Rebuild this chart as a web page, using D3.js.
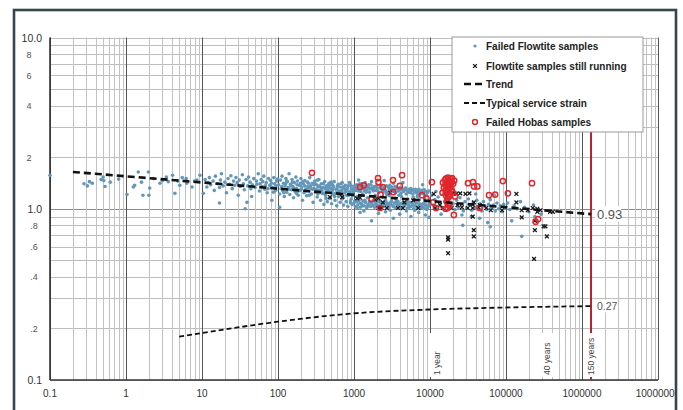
<!DOCTYPE html>
<html>
<head>
<meta charset="utf-8">
<script src="https://cdn.jsdelivr.net/npm/d3@7"></script>
<style>
  body { margin: 0; background: #fff; }
  svg { display: block; font-family: "Liberation Sans", Arial, sans-serif; }
</style>
</head>
<body>
<div id="wrapper"></div>
<script>
// hours to failure vs. strain (%)
const failedFlowtite = [
  [0.1,1.57],[0.28,1.40],[0.31,1.36],[0.33,1.44],[0.36,1.41],[0.47,1.48],[0.5,1.53],[0.51,1.46],[0.53,1.35],[0.62,1.43],[0.8,1.49],
  [1.03,1.21],[1.25,1.34],[1.3,1.37],[1.45,1.64],[1.6,1.43],[1.67,1.2],[1.97,1.64],[2.0,1.2],[2.05,1.32],[2.3,1.5],[2.8,1.41],[3.0,1.46],
  [3.4,1.53],[3.6,1.44],[4.1,1.57],[4.4,1.23],[4.8,1.45],[5.1,1.37],[5.5,1.52],[6.2,1.5],[6.3,1.41],[7.4,1.34],[8.0,1.45],[8.6,1.47],[9.4,1.57],
  [10.4,1.23],[11,1.48],[11.6,1.34],[12,1.42],[12.5,1.52],[13,1.38],[14,1.45],[14.5,1.28],[15,1.55],[16,1.40],[17,1.33],[17.5,1.47],[18,1.6],
  [19,1.36],[20,1.43],[21,1.24],[22,1.5],[23,1.39],[24,1.56],[25,1.31],[26,1.45],[27,1.37],[28,1.52],[29,1.42],[30,1.2],[31,1.47],[32,1.35],
  [34,1.58],[35,1.40],[36,1.29],[38,1.48],[40,1.36],[41,1.53],[43,1.43],[45,1.18],[46,1.38],[48,1.5],[50,1.33],[52,1.45],[55,1.6],[57,1.27],
  [58,1.4],[60,1.48],[62,1.35],[65,1.55],[67,1.3],[70,1.42],[72,1.24],[75,1.5],[78,1.37],[80,1.46],[83,1.12],[85,1.33],[88,1.52],[90,1.4],
  [93,1.28],[96,1.45],[37,1.0],[105,1.02],[17,1.08],[39,1.09],
  [44,1.31],[53,1.39],[63,1.44],[68,1.36],[74,1.31],[82,1.41],[87,1.25],[94,1.36],[98,1.49],
  [102,1.38],[105,1.22],[108,1.47],[110,1.31],[113,1.55],[116,1.27],[118,1.41],[121,1.18],[124,1.36],[127,1.5],[130,1.25],[133,1.44],[136,1.33],
  [140,1.6],[143,1.21],[146,1.39],[150,1.29],[153,1.48],[157,1.35],[160,1.16],[164,1.42],[168,1.26],[172,1.53],[176,1.31],[180,1.45],[185,1.2],
  [190,1.37],[195,1.28],[200,1.5],[205,1.34],[210,1.12],[215,1.4],[220,1.24],[226,1.46],[232,1.3],[238,1.19],[244,1.43],[250,1.33],[256,1.27],
  [262,1.52],[268,1.36],[275,1.22],[282,1.41],[290,1.09],[297,1.31],[305,1.45],[312,1.25],[320,1.38],[328,1.17],[336,1.34],[345,1.48],[354,1.28],
  [363,1.12],[372,1.4],[382,1.23],[392,1.33],[402,1.06],[412,1.44],[423,1.2],[434,1.36],[445,1.1],[457,1.29],[469,1.41],[481,1.15],[494,1.32],
  [507,1.07],[520,1.38],[534,1.22],[548,1.44],[562,1.12],[577,1.3],[592,1.04],[607,1.36],[623,1.18],[640,1.27],[657,1.09],[674,1.4],[692,1.14],
  [710,1.33],[729,1.05],[748,1.24],[768,1.37],[788,1.1],[809,1.29],[830,1.03],[852,1.2],[875,1.42],[898,1.11],[922,1.31],[946,1.06],[971,1.25],[996,1.35],
  [155,1.43],[175,1.23],[198,1.41],[225,1.36],[258,1.2],[285,1.3],[310,1.4],[340,1.26],[370,1.33],[400,1.23],[430,1.15],[460,1.37],[490,1.25],
  [525,1.3],[555,1.18],[590,1.24],[620,1.39],[650,1.2],[690,1.28],[720,1.16],[760,1.3],[800,1.2],[840,1.36],[880,1.26],[920,1.14],[960,1.3],
  [130,1.45],[245,1.35],[330,1.47],[500,1.43],[700,1.42],[900,1.08],
  [112,1.35],[119,1.24],[126,1.4],[138,1.3],[148,1.36],[162,1.32],[178,1.38],[188,1.27],[202,1.3],[212,1.44],[235,1.27],[252,1.41],[270,1.32],
  [295,1.38],[318,1.3],[335,1.22],[350,1.36],[378,1.28],[395,1.4],[420,1.31],[440,1.26],[465,1.33],[485,1.38],[515,1.27],[540,1.35],[570,1.23],
  [600,1.31],[630,1.25],[660,1.34],[700,1.22],[740,1.35],[780,1.26],[820,1.32],[860,1.23],[910,1.37],[950,1.19],[985,1.28],
  [1010,1.33],[1050,1.28],[1090,1.38],[1130,1.3],[1180,1.35],[1220,1.26],[1270,1.4],[1320,1.31],[1370,1.27],[1420,1.36],[1480,1.29],[1540,1.34],
  [1600,1.25],[1660,1.38],[1730,1.3],[1800,1.27],[1870,1.35],[1950,1.28],[2030,1.32],[2110,1.24],[2200,1.37],[2290,1.3],[2380,1.26],[2480,1.33],
  [2580,1.28],[2680,1.36],[2790,1.25],[2900,1.31],[3020,1.28],[3140,1.34],[3270,1.26],[3400,1.3],[3540,1.24],[3680,1.33],[3830,1.27],[3980,1.29],
  [4150,1.23],[4320,1.31],[4500,1.26],[4680,1.29],[4870,1.22],[5070,1.27],[5280,1.3],[5500,1.24],[5720,1.28],[5960,1.22],[6200,1.26],[6450,1.3],
  [6720,1.23],[7000,1.27],[7280,1.21],[7580,1.25],[7890,1.28],[8210,1.22],[8550,1.26],[8900,1.2],[9260,1.24],[9640,1.27],
  [1030,1.36],[1070,1.31],[1140,1.27],[1190,1.4],[1240,1.33],[1290,1.36],[1390,1.32],[1450,1.25],[1560,1.38],[1620,1.31],[1760,1.34],[1830,1.3],
  [1980,1.36],[2060,1.27],[2230,1.33],[2330,1.35],[2530,1.3],[2630,1.24],[2840,1.34],[2960,1.37],[3200,1.29],[3460,1.35],[3720,1.3],[4050,1.33],
  [4400,1.28],[4780,1.32],[5180,1.25],[5620,1.31],[6100,1.29],[6600,1.25],[7150,1.3],[7750,1.23],[8400,1.29],[9100,1.26],
  [1000,1.08],[1040,1.03],[1080,1.1],[1120,1.05],[1160,1.12],[1210,1.02],[1260,1.07],[1310,1.11],[1360,1.04],[1410,1.09],[1470,1.01],[1530,1.06],
  [1590,1.1],[1650,1.03],[1720,1.08],[1790,1.12],[1860,1.02],[1930,1.06],[2010,1.09],[2090,1.04],[2170,1.11],[2260,1.01],[2350,1.07],[2450,1.03],
  [2550,1.1],[2650,1.05],[2760,1.08],[2870,1.02],[2990,1.06],[3110,1.11],[3240,1.04],[3370,1.08],[3510,1.01],[3650,1.06],[3800,1.1],[3950,1.03],
  [4110,1.07],[4280,1.02],[4450,1.09],[4630,1.04],[4820,1.07],[5010,1.01],[5210,1.05],[5420,1.09],[5640,1.03],[5870,1.06],[6110,1.0],[6360,1.04],
  [6610,1.08],[6880,1.02],[7160,1.05],[7450,1.0],[7750,1.04],[8060,1.07],[8390,1.01],[8730,1.05],[9080,0.99],[9450,1.03],[9830,1.06],
  [1020,1.11],[1100,1.01],[1190,1.08],[1280,1.04],[1390,1.12],[1500,1.03],[1620,1.08],[1750,1.05],[1900,1.1],[2050,1.02],[2220,1.08],[2400,1.05],
  [2600,1.12],[2820,1.04],[3050,1.09],[3300,1.03],[3580,1.1],[3880,1.05],[4200,1.0],[4550,1.06],[4930,1.1],[5340,1.02],[5780,1.08],[6260,1.05],
  [6780,1.01],[7340,1.07],[7950,1.02],[8600,1.09],[9300,1.01],[9900,1.09],
  [1100,1.18],[1500,1.16],[1900,1.2],[2400,1.17],[2900,1.19],[3500,1.15],[4200,1.18],[5100,1.14],[6000,1.17],[7200,1.13],[8500,1.15],
  [1300,1.22],[2700,1.21],[3900,1.2],[6800,1.18],
  [1150,1.47],[1700,1.44],[2500,1.46],[4400,1.42],[8000,1.38],[1400,1.42],[3300,1.41],
  [1350,0.97],[1700,0.85],[2100,0.94],[2600,0.96],[3300,0.88],[4000,0.93],[4900,0.97],[5600,0.9],[7100,0.95],[8700,0.92],[9700,0.89],
  [1200,0.95],[3000,0.98],[6300,0.98],
  [10500,1.2],[11000,1.05],[11600,1.13],[12200,1.0],[12800,1.17],[13500,1.08],[14200,1.02],[15000,1.22],[15700,1.1],[16500,0.98],[17400,1.15],
  [18300,1.04],[19200,1.19],[20200,1.07],[21300,0.99],[22400,1.12],[23600,1.02],[24800,1.16],[26100,1.06],[27500,0.97],[28900,1.1],[30400,1.01],
  [32000,1.14],[33700,1.05],[35400,0.98],[37300,1.09],[39200,1.02],[41300,1.12],[43400,1.0],[45700,1.07],[48100,0.97],[50600,1.1],[53200,1.03],
  [56000,0.99],[58900,1.06],[62000,1.13],[65200,1.01],[68600,1.05],[72200,0.97],[76000,1.08],[80000,1.0],[84100,1.04],[88500,0.96],[93100,1.06],
  [98000,1.01],[26300,0.92],[27000,0.8],[62000,0.785],[57500,0.83],[35000,0.9],[45000,0.88],[14000,0.93],
  [12000,1.26],[22000,1.24],[40000,1.22],[70000,1.2],
  [105000,1.08],[112000,0.99],[119000,0.85],[128000,1.04],[140000,1.0],[161000,0.69],[175000,1.02],[200000,0.96],[230000,1.05],
  [260000,0.98],[290000,0.93],[240000,0.9],[155000,1.1]
];

const stillRunning = [
  [483,1.17],[700,1.17],[1100,1.15],[1200,1.16],[1900,1.13],[2100,1.15],[2400,1.09],[2300,1.01],[2100,1.01],[2700,1.01],[3000,1.24],
  [4600,1.09],[4400,1.01],[3800,1.01],[6000,1.12],[7000,1.01],
  [11200,1.22],[16700,1.22],[22300,1.22],[29300,1.22],[11600,1.01],[13500,1.05],[14800,1.01],[19200,1.01],[23000,1.05],[26300,1.02],
  [31400,1.01],[36500,1.01],[37700,1.09],[43500,1.02],[63000,0.98],[88600,0.98],[137000,1.22],[161000,0.98],[193000,0.98],[225000,1.01],
  [258000,0.96],[284000,0.98],[240000,0.85],[330000,0.79],[312000,0.79],[240000,0.75],[380000,0.96],[414000,0.96],[345000,0.69],
  [37700,0.75],[37700,0.69],[17300,0.68],[17300,0.66],[17300,0.55],[234000,0.51],[36500,0.9],[161000,0.89],
  [20000,1.23],[25000,1.23],[33000,1.23],[45000,1.05],[55000,1.01],[137000,1.09],[258000,1.0]
];

const failedHobas = [
  [280,1.62],[1200,1.34],[1350,1.37],[1700,1.14],[2070,1.51],[2100,1.43],[2200,1.01],[2240,1.21],[2400,1.34],[3260,1.47],[3260,1.25],
  [4000,1.36],[4290,1.57],[7850,1.2],[9000,1.15],[10600,1.43],[11000,1.09],[12000,1.01],
  [15700,1.47],[16200,1.5],[16700,1.44],[17200,1.52],[17700,1.46],[18200,1.41],[18700,1.49],[19300,1.43],[15900,1.38],[16500,1.35],
  [17000,1.4],[17500,1.33],[18000,1.37],[18600,1.34],[19200,1.3],[16000,1.28],[16800,1.25],[17400,1.29],[18100,1.22],[16300,1.19],
  [17100,1.15],[17800,1.18],[16600,1.1],[17300,1.06],[17000,1.01],[16000,1.0],[18000,1.04],[20600,0.92],[21300,1.18],[19800,1.25],[20200,1.4],
  [14800,1.42],[15200,1.33],[14600,1.24],[20800,1.46],[19500,1.51],
  [31600,1.41],[36800,1.43],[38000,1.35],[42000,1.35],[45000,1.01],[59700,1.2],[72000,1.21],[91000,1.45],[106000,1.23],
  [220000,1.41],[265000,0.87],[245000,0.84]
];

const trend = [[0.2,1.64],[1314000,0.93]];
const serviceStrain = [[5,0.179],[10,0.188],[100,0.219],[1000,0.245],[10000,0.258],[100000,0.265],[1314000,0.27]];

const xTicks = [0.1,1,10,100,1000,10000,100000,1000000,10000000];
const xTickLabels = ["0.1","1","10","100","1000","10000","100000","1000000","10000000"];
const yMajor = [0.1,1,10];
const yMajorLabels = ["0.1","1.0","10.0"];
const yMinor = [0.2,0.4,0.6,0.8,2,4,6,8];
const yMinorLabels = [".2",".4",".6",".8","2","4","6","8"];

const timeMarks = ["1 year","40 years","150 years"];
const timeHours = [8760,350400,1314000];
const endLabels = ["0.93","0.27"];

const legendLabels = ["Failed Flowtite samples","Flowtite samples still running","Trend","Typical service strain","Failed Hobas samples"];

function draw() {
  const width = 683, height = 410;
  const svg = d3.select("#wrapper").append("svg")
    .attr("width", width)
    .attr("height", height);

  svg.append("defs").append("clipPath").attr("id", "frameClip")
    .append("rect").attr("x", 15).attr("y", 11).attr("width", 660).attr("height", 400);

  const root = svg.append("g").attr("clip-path", "url(#frameClip)");

  const x = d3.scaleLog().domain([0.1, 1e7]).range([50, 658]);
  const y = d3.scaleLog().domain([0.1, 10]).range([380, 37.5]);

  // grid
  const grid = root.append("g");
  const xAll = [];
  for (let e = -1; e < 7; e++) for (let m = 1; m < 10; m++) xAll.push(m * Math.pow(10, e));
  xAll.push(1e7);
  const yAll = [];
  for (let e = -1; e < 1; e++) for (let m = 1; m < 10; m++) yAll.push(m * Math.pow(10, e));
  yAll.push(10);

  grid.selectAll(".hgrid").data(yAll).join("line")
    .attr("x1", 50).attr("x2", 658)
    .attr("y1", d => Math.round(y(d)) + 0.5).attr("y2", d => Math.round(y(d)) + 0.5)
    .attr("stroke", d => Math.abs(d - 1) < 1e-9 ? "#8c8c8c" : "#bdbdbd")
    .attr("stroke-width", 1);

  grid.selectAll(".vgrid").data(xAll).join("line")
    .attr("y1", 37.5).attr("y2", 380)
    .attr("x1", d => Math.round(x(d)) + 0.5).attr("x2", d => Math.round(x(d)) + 0.5)
    .attr("stroke", d => xTicks.some(t => Math.abs(t - d) / t < 1e-9) ? "#555" : "#c2c2c2")
    .attr("stroke-width", 1);

  // axes lines
  grid.append("line").attr("x1", 50).attr("x2", 50).attr("y1", 37.5).attr("y2", 380)
    .attr("stroke", "#333").attr("stroke-width", 1.6);
  grid.append("line").attr("x1", 50).attr("x2", 658).attr("y1", 380).attr("y2", 380)
    .attr("stroke", "#333").attr("stroke-width", 1.6);

  // 150 years limit line
  root.append("line")
    .attr("x1", x(timeHours[2])).attr("x2", x(timeHours[2]))
    .attr("y1", 37.5).attr("y2", 380)
    .attr("stroke", "#b3262c").attr("stroke-width", 2);

  // tick labels
  root.selectAll(".xlab").data(xTicks).join("text")
    .attr("x", d => x(d)).attr("y", 397)
    .attr("text-anchor", "middle")
    .attr("font-size", 10).attr("fill", "#333")
    .text((d, i) => xTickLabels[i]);

  root.selectAll(".ymaj").data(yMajor).join("text")
    .attr("x", 42).attr("y", d => y(d) + 4)
    .attr("text-anchor", "end")
    .attr("font-size", 10.5).attr("fill", "#333")
    .text((d, i) => yMajorLabels[i]);

  root.selectAll(".ymin").data(yMinor).join("text")
    .attr("x", (d, i) => d < 1 ? 34 : 29).attr("y", d => y(d) + 3.5)
    .attr("text-anchor", "middle")
    .attr("font-size", 9).attr("fill", "#555")
    .text((d, i) => yMinorLabels[i]);

  // time marker labels
  const markDx = [11, 0, 0];
  const marks = root.selectAll(".mark").data(timeMarks).join("g")
    .attr("transform", (d, i) => "translate(" + (x(timeHours[i]) + markDx[i]) + ",0)");
  marks.append("rect")
    .attr("x", -8).attr("y", 333).attr("width", 16).attr("height", 44)
    .attr("fill", "#fff");
  marks.append("text")
    .attr("transform", "translate(3,375) rotate(-90)")
    .attr("font-size", 8.5).attr("fill", "#444")
    .text(d => d);

  // points
  const pts = root.append("g");
  pts.selectAll(".ff").data(failedFlowtite).join("circle")
    .attr("cx", d => x(d[0])).attr("cy", d => y(d[1]))
    .attr("r", 1.8)
    .attr("fill", "#6397ba");

  const cross = (s) => "M" + (-s) + "," + (-s) + "L" + s + "," + s + "M" + (-s) + "," + s + "L" + s + "," + (-s);
  pts.selectAll(".sr").data(stillRunning).join("path")
    .attr("transform", d => "translate(" + x(d[0]) + "," + y(d[1]) + ")")
    .attr("d", cross(1.9))
    .attr("stroke", "#1a1a1a").attr("stroke-width", 1.3)
    .attr("fill", "none");

  pts.selectAll(".fh").data(failedHobas).join("circle")
    .attr("cx", d => x(d[0])).attr("cy", d => y(d[1]))
    .attr("r", 2.6)
    .attr("fill", "none")
    .attr("stroke", "#e2262b").attr("stroke-width", 1.5);

  // lines
  const line = d3.line().x(d => x(d[0])).y(d => y(d[1]));
  root.append("path").attr("d", line(trend))
    .attr("fill", "none").attr("stroke", "#111")
    .attr("stroke-width", 2.6).attr("stroke-dasharray", "7,4");

  root.append("path").attr("d", line.curve(d3.curveMonotoneX)(serviceStrain))
    .attr("fill", "none").attr("stroke", "#111")
    .attr("stroke-width", 1.8).attr("stroke-dasharray", "5,3");

  // end labels
  const ends = [trend[trend.length - 1], serviceStrain[serviceStrain.length - 1]];
  const endSize = [13, 10.5];
  ends.forEach((d, i) => {
    root.append("rect")
      .attr("x", x(d[0]) + 4).attr("y", y(d[1]) - endSize[i] * 0.6)
      .attr("width", endSize[i] * 2).attr("height", endSize[i] * 1.2)
      .attr("fill", "#fff");
    root.append("text")
      .attr("x", x(d[0]) + 6).attr("y", y(d[1]) + endSize[i] * 0.36)
      .attr("font-size", endSize[i]).attr("fill", "#555")
      .text(endLabels[i]);
  });

  // legend
  const legend = root.append("g").attr("transform", "translate(452,37)");
  legend.append("rect")
    .attr("width", 191).attr("height", 95)
    .attr("fill", "#fff").attr("stroke", "#9a9a9a").attr("stroke-width", 1);
  const rowY = [9, 29, 47, 66, 85];
  const items = legend.selectAll(".li").data(legendLabels).join("g")
    .attr("transform", (d, i) => "translate(0," + rowY[i] + ")");
  items.append("text")
    .attr("x", 34).attr("y", 3.5)
    .attr("font-size", 10).attr("font-weight", "bold").attr("fill", "#222")
    .text(d => d);
  items.filter((d, i) => i === 0).append("circle")
    .attr("cx", 23).attr("r", 1.6).attr("fill", "#6397ba");
  items.filter((d, i) => i === 1).append("path")
    .attr("transform", "translate(23,0)").attr("d", cross(1.9))
    .attr("stroke", "#1a1a1a").attr("stroke-width", 1.3);
  items.filter((d, i) => i === 2).append("line")
    .attr("x1", 12).attr("x2", 32).attr("stroke", "#111")
    .attr("stroke-width", 2.6).attr("stroke-dasharray", "7,4");
  items.filter((d, i) => i === 3).append("line")
    .attr("x1", 12).attr("x2", 34).attr("stroke", "#111")
    .attr("stroke-width", 1.8).attr("stroke-dasharray", "5,3");
  items.filter((d, i) => i === 4).append("circle")
    .attr("cx", 23).attr("r", 2.4).attr("fill", "none")
    .attr("stroke", "#e2262b").attr("stroke-width", 1.5);

  // outer frame
  svg.append("rect")
    .attr("x", 14).attr("y", 10).attr("width", 662).attr("height", 420)
    .attr("fill", "none").attr("stroke", "#38454a").attr("stroke-width", 2.6);
}
draw();
</script>
</body>
</html>
